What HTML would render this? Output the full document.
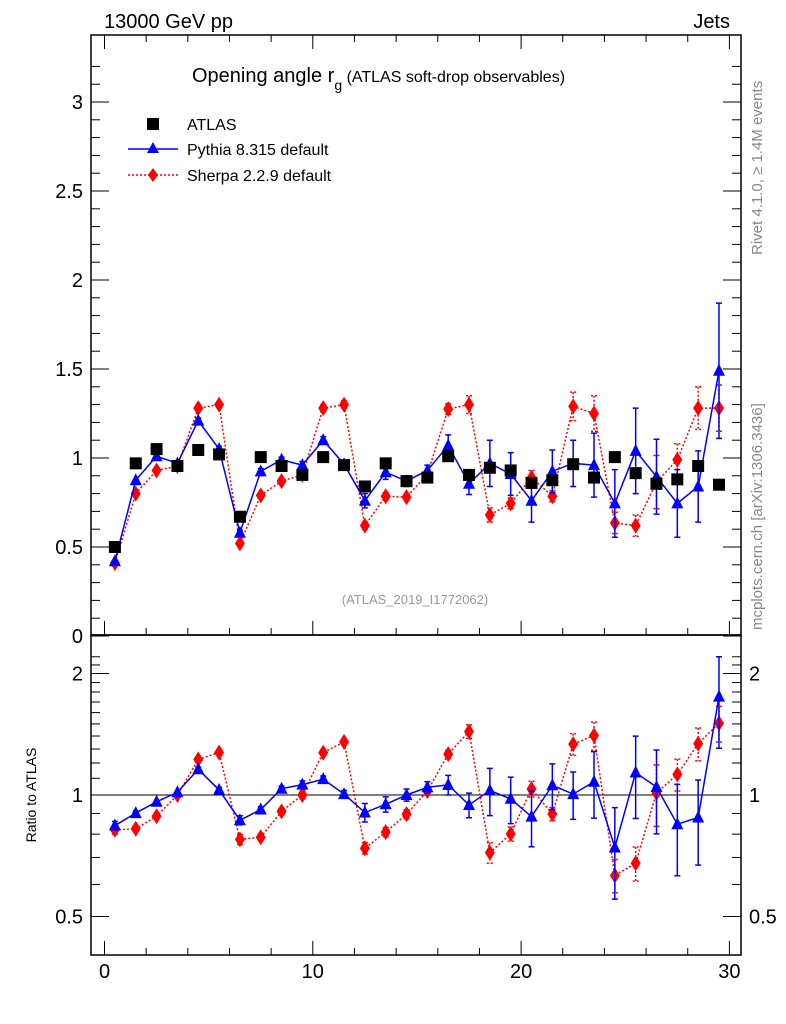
<!DOCTYPE html>
<html><head><meta charset="utf-8"><style>
html,body{margin:0;padding:0;background:#fff;}
svg{display:block;font-family:"Liberation Sans",sans-serif;}
</style></head><body>
<svg id="c" width="786" height="1024" viewBox="0 0 786 1024" xmlns="http://www.w3.org/2000/svg">
<text x="104" y="28" font-size="20">13000 GeV pp</text>
<text x="730" y="28" font-size="20" text-anchor="end">Jets</text>
<text x="192" y="82" font-size="20">Opening angle r<tspan font-size="14" dy="8">g</tspan><tspan font-size="16" dy="-8"> (ATLAS soft-drop observables)</tspan></text>
<text x="415" y="604" font-size="13" fill="#999" text-anchor="middle">(ATLAS_2019_I1772062)</text>
<text transform="translate(762,255) rotate(-90)" font-size="15" fill="#888">Rivet 4.1.0, ≥ 1.4M events</text>
<text transform="translate(762,630) rotate(-90)" font-size="15" fill="#888">mcplots.cern.ch [arXiv:1306.3436]</text>
<text transform="translate(36,795) rotate(-90)" font-size="14" text-anchor="middle">Ratio to ATLAS</text>
<g id="legend">
<rect x="147" y="118" width="12" height="12" fill="#000"/>
<text x="187" y="130" font-size="16">ATLAS</text>
<line x1="128" y1="149" x2="178" y2="149" stroke="#00f" stroke-width="1.5"/>
<polygon points="153,142 159,153 147,153" fill="#00f"/>
<text x="187" y="155" font-size="16">Pythia 8.315 default</text>
<line x1="128" y1="175" x2="178" y2="175" stroke="#f00" stroke-width="1.5" stroke-dasharray="2,2"/>
<polygon points="153,168 158,175 153,182 148,175" fill="#f00"/>
<text x="187" y="181" font-size="16">Sherpa 2.2.9 default</text>
</g>
<g id="axes"></g>
<g id="marks"></g>
</svg>
<script>
const atlas = [0.50,0.97,1.05,0.955,1.045,1.02,0.67,1.005,0.955,0.905,1.005,0.96,0.84,0.97,0.87,0.89,1.01,0.905,0.945,0.93,0.86,0.875,0.965,0.89,1.005,0.915,0.855,0.88,0.955,0.85];
const pythia = [0.42,0.875,1.01,0.97,1.21,1.05,0.58,0.925,0.99,0.96,1.10,0.965,0.76,0.92,0.87,0.93,1.07,0.855,0.97,0.91,0.76,0.925,0.97,0.96,0.745,1.04,0.895,0.745,0.84,1.49];
const pythiaErr = [0.01,0.01,0.01,0.01,0.015,0.015,0.015,0.015,0.015,0.02,0.02,0.02,0.04,0.04,0.03,0.03,0.06,0.06,0.13,0.12,0.12,0.12,0.13,0.18,0.19,0.24,0.21,0.19,0.2,0.38];
const sherpa = [0.41,0.80,0.93,0.955,1.28,1.30,0.52,0.79,0.87,0.905,1.28,1.30,0.62,0.785,0.78,0.91,1.275,1.30,0.68,0.745,0.89,0.785,1.29,1.25,0.635,0.62,0.865,0.99,1.28,1.28];
const sherpaErr = [0.01,0.01,0.01,0.01,0.015,0.015,0.015,0.015,0.015,0.02,0.02,0.02,0.02,0.02,0.02,0.02,0.03,0.05,0.04,0.03,0.04,0.03,0.08,0.1,0.06,0.06,0.15,0.09,0.12,0.13];
const xTicks = [0,10,20,30];
const mainTicks = [0,0.5,1,1.5,2,2.5,3];
const mainTickLabels = ["0","0.5","1","1.5","2","2.5","3"];
const ratioTicks = [0.5,1,2];
const ratioTickLabels = ["0.5","1","2"];

const NS="http://www.w3.org/2000/svg";
const L=91,R=741,T=35,M=635,B=955;
const X=v=>104.5+v*20.83;
const Y=v=>636-v*178;
const RY=r=>795-Math.log2(r)*121.5;
const axes=document.getElementById('axes'), marks=document.getElementById('marks');
function mk(tag,attrs,parent){const e=document.createElementNS(NS,tag);for(const k in attrs)e.setAttribute(k,attrs[k]);parent.appendChild(e);return e;}

// frames
let f1=mk('rect',{x:L,y:T,width:R-L,height:M-T,fill:'none',stroke:'#000','stroke-width':1.5},axes);


let f2=mk('rect',{x:L,y:M,width:R-L,height:B-M,fill:'none',stroke:'#000','stroke-width':1.5},axes);


let one=mk('line',{x1:L,x2:R,y1:RY(1),y2:RY(1),stroke:'#000','stroke-width':1},axes);



// x ticks
for(let v=0;v<=31;v++){
  const len=v%10===0?14:(v%2===0?7:7);
  const major=v%10===0;
  const l=major?14:7;
  if(v%2!==0 && !major) continue;
  mk('line',{x1:X(v),x2:X(v),y1:B,y2:B-l,stroke:'#000'},axes);
  mk('line',{x1:X(v),x2:X(v),y1:T,y2:T+l,stroke:'#000'},axes);
  mk('line',{x1:X(v),x2:X(v),y1:M,y2:M-l,stroke:'#000'},axes);
}
xTicks.forEach((v,i)=>{
  const t=mk('text',{x:X(v),y:978,'font-size':20,'text-anchor':'middle'},axes);
  t.textContent=String(v);
  
  
});
// main y ticks
for(let v=0;v<=3.3;v+=0.1){
  const maj=Math.abs(v*2-Math.round(v*2))<1e-6;
  const l=maj?18:9;
  mk('line',{x1:L,x2:L+l,y1:Y(v),y2:Y(v),stroke:'#000'},axes);
  mk('line',{x1:R,x2:R-l,y1:Y(v),y2:Y(v),stroke:'#000'},axes);
}
mainTicks.forEach((v,i)=>{
  const t=mk('text',{x:83,y:Y(v)+7,'font-size':20,'text-anchor':'end'},axes);
  t.textContent=mainTickLabels[i];
  
  
});
// ratio ticks
for(let v=0.4;v<=2.3;v+=0.1){
  const vv=Math.round(v*10)/10;
  const y=RY(vv); if(y<M||y>B) continue;
  const maj=ratioTicks.includes(vv);
  const l=maj?18:9;
  mk('line',{x1:L,x2:L+l,y1:y,y2:y,stroke:'#000'},axes);
  mk('line',{x1:R,x2:R-l,y1:y,y2:y,stroke:'#000'},axes);
}
ratioTicks.forEach((v,i)=>{
  let t=mk('text',{x:83,y:RY(v)+7,'font-size':20,'text-anchor':'end'},axes);
  t.textContent=ratioTickLabels[i];
  
  
  t=mk('text',{x:749,y:RY(v)+7,'font-size':20},axes);
  t.textContent=ratioTickLabels[i];
  
  
});

function series(vals,errs,color,dash,kind,yf,name){
  const g=mk('g',{},marks);
  
  
  const pts=vals.map((v,i)=>X(i+0.5)+','+yf(v,i)).join(' ');
  const pl=mk('polyline',{points:pts,fill:'none',stroke:color,'stroke-width':1.5},g);
  if(dash) pl.setAttribute('stroke-dasharray','2,2');
  
  
  vals.forEach((v,i)=>{
    const x=X(i+0.5),y=yf(v,i),y1=yf(v+errs[i],i),y2=yf(v-errs[i],i);
    if(Math.abs(y1-y2)>4){
      const e=mk('path',{d:`M${x},${y1}V${y2}M${x-3},${y1}H${x+3}M${x-3},${y2}H${x+3}`,stroke:color,'stroke-width':1.5,fill:'none'},g);
      if(dash) e.setAttribute('stroke-dasharray','2,2');
      
      
    }
    let m;
    if(kind==='tri') m=mk('polygon',{points:`${x},${y-7} ${x+6},${y+5} ${x-6},${y+5}`,fill:color},g);
    else m=mk('polygon',{points:`${x},${y-8} ${x+5},${y} ${x},${y+8} ${x-5},${y}`,fill:color},g);
    
    
  });
}
// main panel
series(sherpa,sherpaErr,'#f00',true,'dia',v=>Y(v),'sherpa');
series(pythia,pythiaErr,'#00f',false,'tri',v=>Y(v),'pythia');
atlas.forEach((v,i)=>{
  const s=mk('rect',{x:X(i+0.5)-6,y:Y(v)-6,width:12,height:12,fill:'#000'},marks);
  
  
});
// ratio panel
series(sherpa.map((v,i)=>v/atlas[i]),sherpaErr.map((e,i)=>e/atlas[i]),'#f00',true,'dia',v=>RY(Math.max(v,0.01)),'sherpa-ratio');
series(pythia.map((v,i)=>v/atlas[i]),pythiaErr.map((e,i)=>e/atlas[i]),'#00f',false,'tri',v=>RY(Math.max(v,0.01)),'pythia-ratio');
</script>
</body></html>
